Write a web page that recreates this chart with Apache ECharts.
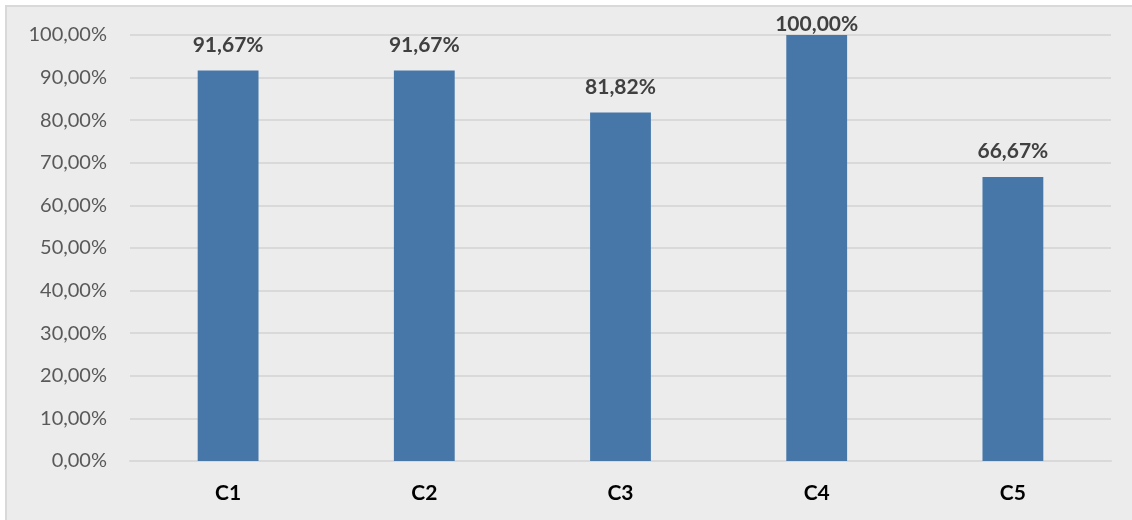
<!DOCTYPE html>
<html>
<head>
<meta charset="utf-8">
<script src="https://cdn.jsdelivr.net/npm/echarts@6/dist/echarts.min.js"></script>
<style>
  html, body { margin: 0; padding: 0; background: #ffffff; }
  #chart { width: 1132px; height: 520px; }
</style>
</head>
<body>
<div id="chart"></div>
<script>
// Category names and their percentage values
const categories = ['C1', 'C2', 'C3', 'C4', 'C5'];
const values = [91.67, 91.67, 81.82, 100.00, 66.67];

const fmt = v => v.toFixed(2).replace('.', ',') + '%';
const FONT = 'Lato, "Open Sans", sans-serif';

const chart = echarts.init(document.getElementById('chart'));
chart.setOption({
  animation: false,
  graphic: [{
    type: 'rect',
    left: 5, top: 5,
    shape: { width: 1140, height: 530 },
    style: { fill: '#ececec', stroke: '#d9d9d9', lineWidth: 2 },
    z: -10
  }],
  grid: { left: 130, right: 21, top: 35, bottom: 59 },
  xAxis: {
    type: 'category',
    data: categories,
    axisLine: { show: true, lineStyle: { color: '#d9d9d9', width: 2 } },
    axisTick: { show: false },
    axisLabel: {
      margin: 22,
      color: '#000000',
      fontWeight: 'bold',
      fontSize: 21,
      fontFamily: FONT
    }
  },
  yAxis: {
    type: 'value',
    min: 0, max: 100, interval: 10,
    axisLine: { show: false },
    axisTick: { show: false },
    splitLine: { lineStyle: { color: '#d9d9d9', width: 2 } },
    axisLabel: {
      margin: 23,
      color: '#595959',
      fontSize: 20,
      fontFamily: FONT,
      formatter: v => fmt(v)
    }
  },
  series: [{
    type: 'bar',
    barWidth: '31%',
    itemStyle: { color: '#4677a8' },
    data: values.map(v => ({
      value: v,
      label: { distance: v >= 100 ? 0 : 15 }
    })),
    label: {
      show: true,
      position: 'top',
      color: '#404040',
      fontWeight: 'bold',
      fontSize: 21,
      fontFamily: FONT,
      formatter: p => fmt(p.value)
    }
  }]
});
</script>
</body>
</html>
